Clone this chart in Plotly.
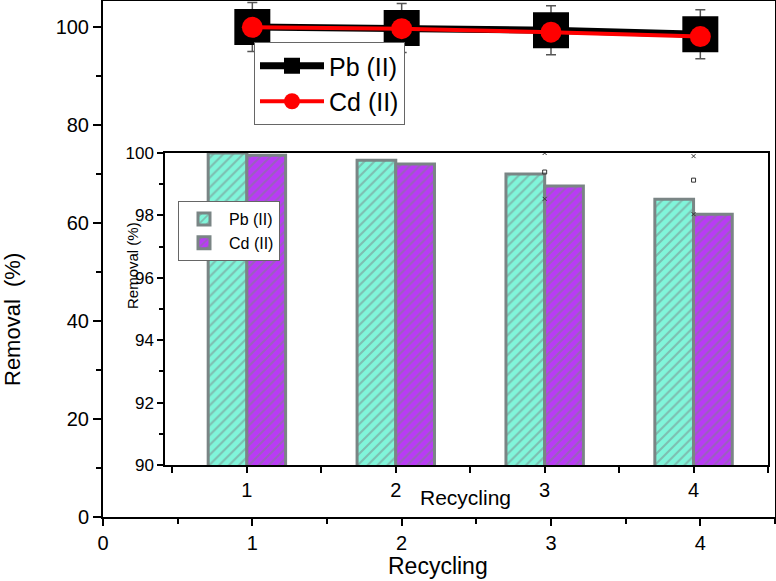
import plotly.graph_objects as go

# ---- data ----
cycles = [1, 2, 3, 4]
pb_removal = [100.0, 99.77, 99.33, 98.52]
cd_removal = [99.93, 99.65, 98.94, 98.04]
pb_err = [5, 5, 5, 5]
stray_x = [3, 3, 3, 4, 4, 4]
stray_y = [100.0, 99.39, 98.53, 99.9, 99.13, 98.04]
stray_sym = ["x-thin-open", "square-open", "x-thin-open", "x-thin-open", "square-open", "x-thin-open"]
series_names = ["Pb (II)", "Cd (II)"]
main_xticks = [0, 1, 2, 3, 4]
main_yticks = [0, 20, 40, 60, 80, 100]
inset_yticks = [90, 92, 94, 96, 98, 100]

FONT = "Arial, Liberation Sans, sans-serif"
W, H = 776, 581
ML, MR, MT, MB = 103, 1, 1, 64
pw, ph = W - ML - MR, H - MT - MB

def px_x(x):
    return (x - ML) / pw

def px_y(y):
    return (H - MB - y) / ph

fig = go.Figure()

# main line traces
fig.add_trace(go.Scatter(
    x=cycles, y=pb_removal, name=series_names[0], mode="lines+markers",
    line=dict(color="black", width=7),
    marker=dict(symbol="square", size=36, color="black"),
    error_y=dict(type="data", array=pb_err, color="#555555", thickness=1.5, width=5),
    legend="legend", xaxis="x", yaxis="y", cliponaxis=False,
))
fig.add_trace(go.Scatter(
    x=cycles, y=cd_removal, name=series_names[1], mode="lines+markers",
    line=dict(color="#FF0000", width=4),
    marker=dict(symbol="circle", size=21, color="#FF0000"),
    legend="legend", xaxis="x", yaxis="y", cliponaxis=False,
))

# inset bars
fig.add_trace(go.Bar(
    x=cycles, y=pb_removal, name=series_names[0],
    marker=dict(color="#80F5DA", line=dict(color="#7A8585", width=3),
                pattern=dict(shape="/", fgcolor="#7A8585", bgcolor="#80F5DA", size=7, solidity=0.3)),
    legend="legend2", xaxis="x2", yaxis="y2",
))
fig.add_trace(go.Bar(
    x=cycles, y=cd_removal, name=series_names[1],
    marker=dict(color="#B93BF5", line=dict(color="#7A8585", width=3),
                pattern=dict(shape="/", fgcolor="#7A8585", bgcolor="#B93BF5", size=7, solidity=0.3)),
    legend="legend2", xaxis="x2", yaxis="y2",
))
fig.add_trace(go.Scatter(
    x=stray_x, y=stray_y, mode="markers", showlegend=False,
    marker=dict(symbol=stray_sym, size=4, color="#333333", line=dict(width=1, color="#333333")),
    xaxis="x2", yaxis="y2", cliponaxis=False,
))

axis_common = dict(showgrid=False, zeroline=False, showline=True, linecolor="black",
                   mirror=True, ticks="outside", tickcolor="black", color="black",
                   automargin=False)

ann = dict(xref="paper", yref="paper", showarrow=False, xanchor="center", yanchor="middle")

fig.update_layout(
    width=W, height=H,
    margin=dict(l=ML, r=MR, t=MT, b=MB, autoexpand=False),
    paper_bgcolor="white", plot_bgcolor="white",
    font=dict(family=FONT, color="black"),
    barmode="group", bargap=0.48, bargroupgap=0,
    xaxis=dict(axis_common, range=[0, 4.5], tickvals=main_xticks, linewidth=2,
               ticklen=7, tickwidth=2, tickfont=dict(size=20),
               minor=dict(ticks="outside", ticklen=5, tickwidth=2, dtick=0.5, tick0=0, tickcolor="black"),
               domain=[0, 1], anchor="y"),
    yaxis=dict(axis_common, range=[0, 105.3], tickvals=main_yticks, linewidth=2,
               ticklen=8, tickwidth=2, tickfont=dict(size=20),
               minor=dict(ticks="outside", ticklen=5, tickwidth=2, dtick=10, tick0=0, tickcolor="black"),
               domain=[0, 1], anchor="x"),
    xaxis2=dict(axis_common, range=[0.45, 4.5], tickvals=cycles, linewidth=1.5,
                ticklen=6, tickwidth=1.5, tickfont=dict(size=20),
                minor=dict(ticks="outside", ticklen=6, tickwidth=1.5, dtick=0.5, tick0=0.5, tickcolor="black"),
                domain=[px_x(165), px_x(768)], anchor="y2"),
    yaxis2=dict(axis_common, range=[90, 100], tickvals=inset_yticks, linewidth=1.5,
                ticklen=6, tickwidth=1.5, tickfont=dict(size=17),
                minor=dict(ticks="outside", ticklen=4, tickwidth=1.5, dtick=1, tick0=90, tickcolor="black"),
                domain=[px_y(465), px_y(153)], anchor="x2"),
    legend=dict(x=px_x(254), y=px_y(42), xanchor="left", yanchor="top",
                bgcolor="white", bordercolor="#666666", borderwidth=1,
                font=dict(size=25, family=FONT), itemwidth=64, tracegroupgap=0),
    legend2=dict(x=px_x(178), y=px_y(201), xanchor="left", yanchor="top",
                 bgcolor="white", bordercolor="#666666", borderwidth=1,
                 font=dict(size=16, family=FONT), itemwidth=40, tracegroupgap=0),
    annotations=[
        dict(ann, text="Removal  (%)", x=px_x(12), y=px_y(320), textangle=-90,
             font=dict(size=22, family=FONT)),
        dict(ann, text="Recycling", x=px_x(438), y=px_y(580), yanchor="bottom",
             borderpad=0, font=dict(size=23, family=FONT)),
        dict(ann, text="Removal (%)", x=px_x(132), y=px_y(266), textangle=-90,
             font=dict(size=15, family=FONT)),
        dict(ann, text="Recycling", x=px_x(465), y=px_y(497),
             font=dict(size=21, family=FONT)),
    ],
)

fig.write_html("out.html", config={"displayModeBar": False},
               post_script="document.body.style.margin='0';document.body.style.overflow='hidden';")
